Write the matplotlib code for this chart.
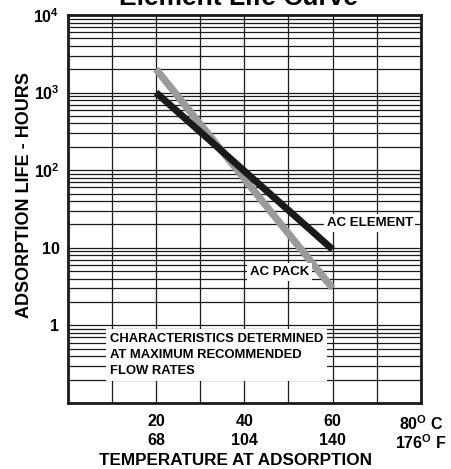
import matplotlib
matplotlib.use("Agg")
import matplotlib.pyplot as plt
from matplotlib.ticker import LogLocator, FixedLocator, NullFormatter

# Values
temp_c = [20, 60]
ac_pack_hours = [2000, 3]
ac_element_hours = [1000, 9.5]

c_ticks = [20, 40, 60, 80]
c_tick_labels = ["20", "40", "60", "80$^{O}$ C"]
f_ticks = [68, 104, 140, 176]
f_tick_labels = ["68", "104", "140", "176$^{O}$ F"]
y_ticks = [1, 10, 100, 1000, 10000]
y_tick_labels = ["1", "10", "10$^2$", "10$^3$", "10$^4$"]

plt.rcParams['font.family'] = ['Liberation Sans', 'DejaVu Sans']
plt.rcParams['font.weight'] = 'bold'
plt.rcParams['mathtext.fontset'] = 'custom'
plt.rcParams['mathtext.rm'] = 'Liberation Sans:bold'
plt.rcParams['mathtext.bf'] = 'Liberation Sans:bold'
plt.rcParams['mathtext.default'] = 'rm'

fig = plt.figure(figsize=(4.52, 4.69), dpi=100)
ax = fig.add_axes([0.150, 0.141, 0.781, 0.827])

ax.set_yscale('log')
ax.set_xlim(0, 80)
ax.set_ylim(0.1, 10000)

# grid
ax.xaxis.set_major_locator(FixedLocator(c_ticks))
ax.xaxis.set_minor_locator(FixedLocator(range(0, 81, 10)))
ax.yaxis.set_major_locator(FixedLocator(y_ticks))
ax.yaxis.set_minor_locator(LogLocator(base=10, subs=range(2, 10)))
ax.yaxis.set_minor_formatter(NullFormatter())
ax.grid(True, which='both', color='#1a1a1a', linewidth=0.9)
ax.set_axisbelow(True)
ax.tick_params(which='both', length=0)

ax.set_xticklabels(c_tick_labels, fontsize=11.5, fontweight='bold')
ax.set_yticklabels(y_tick_labels, fontsize=11.5, fontweight='bold')
ax.tick_params(axis='x', pad=8)
ax.tick_params(axis='y', pad=6)

# Fahrenheit row under the Celsius row
sec = ax.secondary_xaxis('bottom', functions=(lambda c: c * 9 / 5 + 32, lambda f: (f - 32) * 5 / 9))
sec.set_xticks(f_ticks)
sec.set_xticklabels(f_tick_labels, fontsize=11.5, fontweight='bold')
sec.tick_params(length=0, pad=22)
sec.spines['bottom'].set_visible(False)

for s in ax.spines.values():
    s.set_linewidth(2.0)
    s.set_color('#1a1a1a')

# curves
ax.plot(temp_c, ac_pack_hours, color='#9a9a9a', linewidth=5.2, solid_capstyle='butt', zorder=3)
ax.plot(temp_c, ac_element_hours, color='#1a1a1a', linewidth=5.0, solid_capstyle='butt', zorder=4)

box = dict(facecolor='white', edgecolor='none', pad=2)
ax.text(68.4, 21, "AC ELEMENT", fontsize=9.5, fontweight='bold', ha='center', va='center',
        bbox=box, zorder=5)
ax.text(48, 4.9, "AC PACK", fontsize=9.5, fontweight='bold', ha='center', va='center',
        bbox=box, zorder=5)
ax.text(0.119, 0.180, "CHARACTERISTICS DETERMINED\nAT MAXIMUM RECOMMENDED\nFLOW RATES",
        transform=ax.transAxes, fontsize=9.4, fontweight='bold', ha='left', va='top',
        linespacing=1.45, bbox=dict(facecolor='white', edgecolor='none', pad=3), zorder=5)

fig.text(0.527, 0.989, "Element Life Curve", fontsize=19, fontweight='bold', ha='center', va='baseline')
fig.text(0.055, 0.584, "ADSORPTION LIFE - HOURS", fontsize=13, fontweight='bold',
         rotation=90, ha='center', va='center')
fig.text(0.522, 0.019, "TEMPERATURE AT ADSORPTION", fontsize=12.3, fontweight='bold',
         ha='center', va='center')

fig.savefig('out.png', dpi=100)
